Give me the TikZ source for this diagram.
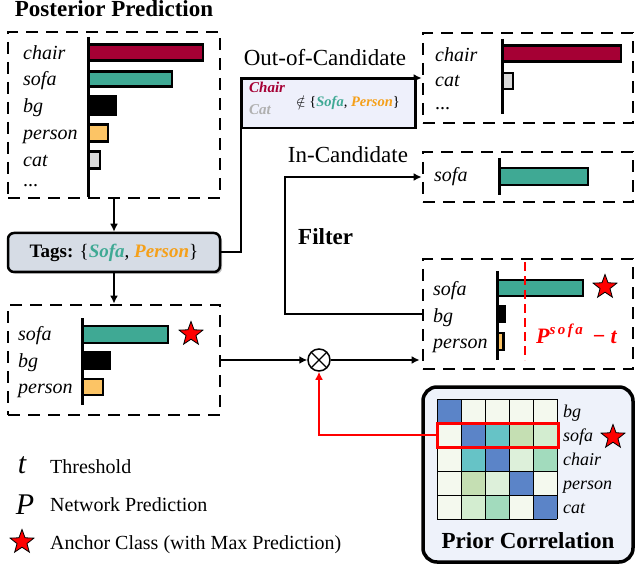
\documentclass[tikz,border=0pt]{standalone}
\usepackage{fontspec}
\setmainfont{Liberation Serif}
\usetikzlibrary{arrows.meta,shapes.geometric,shadows,calc}
\definecolor{cchair}{HTML}{A50034}
\definecolor{csofa}{HTML}{3FA994}
\definecolor{cperson}{HTML}{FCC465}
\definecolor{ccat}{HTML}{D9D9D9}
\definecolor{ctagfill}{HTML}{D6DCE5}
\definecolor{ctsofa}{HTML}{3FA994}
\definecolor{ctperson}{HTML}{F5A01A}
\definecolor{coocfill}{HTML}{EEF0FB}
\definecolor{ccatgray}{HTML}{B0B0B0}
\definecolor{cpcfill}{HTML}{EEF2FA}
\definecolor{mB}{HTML}{5B84C8}
\definecolor{mL}{HTML}{F4F9EE}
\definecolor{mT}{HTML}{66C3C6}
\definecolor{mGa}{HTML}{C5DFB3}
\definecolor{mGb}{HTML}{D3EDD0}
\definecolor{mGc}{HTML}{DDF0DA}
\definecolor{mM}{HTML}{A2DBBD}
\tikzset{
  dbox/.style={draw, line width=2.8pt, dash pattern=on 12pt off 8pt, inner sep=0},
  bar/.style={draw, line width=2.5pt},
  axisline/.style={line width=3pt},
  lab/.style={anchor=base west, inner sep=0, font=\fontsize{20}{20}\selectfont\itshape},
  mlab/.style={anchor=base west, inner sep=0, font=\fontsize{18}{18}\selectfont\itshape},
  arr/.style={line width=2pt, -{Latex[length=8pt,width=8pt]}},
  redarr/.style={draw=red, line width=2pt, -{Latex[length=8pt,width=8pt]}},
  starmark/.style={star, star points=5, star point ratio=2.4, fill=red, draw=black, line width=0.8pt, minimum size=25pt, inner sep=0},
  gridline/.style={line width=0.8pt, black},
  legtext/.style={anchor=base west, inner sep=0, font=\fontsize{20}{20}\selectfont},
  title/.style={anchor=base, inner sep=0, font=\fontsize{23}{23}\selectfont\bfseries},
  flowtext/.style={anchor=base, inner sep=0, font=\fontsize{23}{23}\selectfont},
}
\begin{document}
\begin{tikzpicture}[x=1pt,y=-1pt]
\useasboundingbox (0,0) rectangle (638,567);

% ---------- Posterior prediction box ----------
\node[title] (ttl) at (114,17) {Posterior Prediction};
\node[dbox, minimum width=212pt, minimum height=166pt] (post) at (114,115) {};
\node[lab] (p1) at (23,60) {chair};
\node[lab] (p2) at (23,86) {sofa};
\node[lab] (p3) at (23,113) {bg};
\node[lab] (p4) at (23,140) {person};
\node[lab] (p5) at (23,167) {cat};
\node[lab, font=\fontsize{20}{20}\selectfont] (p6) at (23,187) {...};
\draw[bar, fill=cchair] (88,44.5) rectangle (203,60.5);
\draw[bar, fill=csofa] (88,71.5) rectangle (172,86.5);
\draw[bar, fill=black] (88,96.5) rectangle (116,114.5);
\draw[bar, fill=cperson] (88,124.5) rectangle (108,141.5);
\draw[bar, fill=ccat] (88,151.5) rectangle (100,168.5);
\draw[axisline] (88,37) -- (88,197);

% ---------- Tags ----------
\node[draw, line width=2.5pt, rounded corners=6pt, fill=ctagfill, minimum width=212pt, minimum height=39pt, inner sep=0,
      drop shadow={shadow xshift=2pt, shadow yshift=-2pt, fill=black!50}] (tags) at (114,252.5)
  {\fontsize{19}{19}\selectfont\textbf{Tags:} \{{\bfseries\itshape\color{ctsofa}Sofa}, {\bfseries\itshape\color{ctperson}Person}\}};

% ---------- Filtered prediction box ----------
\node[dbox, minimum width=212pt, minimum height=110pt] (filt) at (114,360) {};
\node[lab] (f1) at (18,340) {sofa};
\node[lab] (f2) at (18,367) {bg};
\node[lab] (f3) at (18,393) {person};
\draw[bar, fill=csofa] (82,326) rectangle (168,343);
\draw[bar, fill=black] (82,352) rectangle (110,369);
\draw[bar, fill=cperson] (82,379) rectangle (103,395);
\draw[axisline] (82,318) -- (82,405);
\node[starmark] (s1) at (191,334) {};

% ---------- Out-of-candidate result ----------
\node[dbox, minimum width=210pt, minimum height=90pt] (outres) at (528,78) {};
\node[lab] (o1) at (435,62) {chair};
\node[lab] (o2) at (435,87) {cat};
\node[lab, font=\fontsize{20}{20}\selectfont] (o3) at (435,110) {...};
\draw[bar, fill=cchair] (502,45.5) rectangle (621,61.5);
\draw[bar, fill=ccat] (502,73) rectangle (513,89);
\draw[axisline] (502,39) -- (502,114);

% ---------- In-candidate result ----------
\node[dbox, minimum width=210pt, minimum height=50pt] (inres) at (528,177) {};
\node[lab] (i1) at (434,182) {sofa};
\draw[bar, fill=csofa] (499,168) rectangle (588,185);
\draw[axisline] (499,158) -- (499,195);

% ---------- Threshold box ----------
\node[dbox, minimum width=210pt, minimum height=110pt] (thr) at (528,314) {};
\node[lab] (t1) at (433,295) {sofa};
\node[lab] (t2) at (433,322) {bg};
\node[lab] (t3) at (433,348) {person};
\draw[bar, fill=csofa] (497,280) rectangle (583,296);
\draw[bar, fill=black] (497,306) rectangle (505,322);
\draw[bar, fill=cperson] (497,333) rectangle (503.5,350);
\draw[axisline] (497,271) -- (497,360);
\draw[red, line width=2pt, dash pattern=on 9pt off 5pt] (525,262) -- (525,360);
\node[starmark] (s2) at (605,287) {};
\node[anchor=base west, inner sep=0, text=red, font=\fontsize{22}{22}\selectfont\bfseries\itshape] (pt) at (536,343)
  {P\raisebox{9pt}{\fontsize{15}{15}\selectfont s\,o\,f\,a}\hspace{10pt}{\upshape −}\hspace{5pt}t};

% ---------- Prior correlation ----------
\node[draw, line width=3.5pt, rounded corners=14pt, fill=cpcfill, minimum width=210pt, minimum height=175pt, inner sep=0] (pc) at (528,474.5) {};
\foreach \row [count=\r from 0] in {{mB,mL,mL,mL,mL},{mL,mB,mT,mGa,mGb},{mL,mT,mB,mGc,mM},{mL,mGa,mGc,mB,mL},{mL,mGb,mM,mL,mB}}{
  \foreach \c [count=\k from 0] in \row {
    \fill[\c] (437+24*\k,399+24*\r) rectangle ++(24,24);
  }
}
\foreach \i in {0,...,5}{
  \draw[gridline] (437+24*\i,399) -- (437+24*\i,519);
  \draw[gridline] (437,399+24*\i) -- (557,399+24*\i);
}
\foreach \lab/\yy [count=\n] in {bg/417,sofa/441,chair/465,person/489,cat/513}{
  \node[mlab] (m\n) at (563,\yy) {\lab};
}
\node[draw=red, line width=3pt, minimum width=121pt, minimum height=24pt, inner sep=0] (hl) at (497.5,435) {};
\node[starmark] (s3) at (613,437) {};
\node[title] (pctitle) at (528,548) {Prior Correlation};

% ---------- Combination ----------
\node[circle, draw, line width=1.5pt, minimum size=22pt, inner sep=0, fill=white,
  path picture={\draw[line width=1.2pt] (path picture bounding box.north west) -- (path picture bounding box.south east)
   (path picture bounding box.north east) -- (path picture bounding box.south west);}] (ox) at (319,360) {};

% ---------- Connectors ----------
\draw[arr] (post.south) -- (tags.north);
\draw[arr] (tags.south) -- (filt.north);
\draw[arr] (tags.east) -- ++(20,0) |- (outres.west);
\node[draw, line width=2.5pt, fill=coocfill, minimum width=174pt, minimum height=49pt, anchor=north west, inner sep=0] (ooc) at (240,78) {};
\node[anchor=base west, inner sep=0, text=cchair, font=\fontsize{15}{15}\selectfont\bfseries\itshape] (oc1) at (249,93) {Chair};
\node[anchor=base west, inner sep=0, text=ccatgray, font=\fontsize{15}{15}\selectfont\bfseries\itshape] (oc2) at (249,115) {Cat};
\node[anchor=west, inner sep=0, font=\fontsize{14.5}{14.5}\selectfont] (oc3) at (296,103)
  {$\notin$ \{{\bfseries\itshape\color{ctsofa}Sofa}, {\bfseries\itshape\color{ctperson}Person}\}};
\node[flowtext] (ooct) at (325,66) {Out-of-Candidate};
\node[flowtext] (inct) at (348,163) {In-Candidate};
\node[anchor=base west, inner sep=0, font=\fontsize{23}{23}\selectfont\bfseries] (fl) at (298,245) {Filter};
\draw[arr] (thr.west) -- ++(-137,0) |- (inres.west);
\draw[arr] (filt.east) -- (ox.west);
\draw[arr] (ox.east) -- ($(ox.east -| thr.west)+(-2,0)$);
\draw[redarr] (hl.west) -| (ox.south);

% ---------- Legend ----------
\node[anchor=base, inner sep=0, font=\fontsize{30}{30}\selectfont\itshape] (lt) at (22,473) {t};
\node[legtext] (ltt) at (50,473) {Threshold};
\node[anchor=base, inner sep=0, font=\fontsize{30}{30}\selectfont\itshape] (lp) at (25,514) {P};
\node[legtext] (lpt) at (50,511) {Network Prediction};
\node[starmark] (ls) at (22,542) {};
\node[legtext] (lst) at (50,549) {Anchor Class (with Max Prediction)};
\end{tikzpicture}
\end{document}
